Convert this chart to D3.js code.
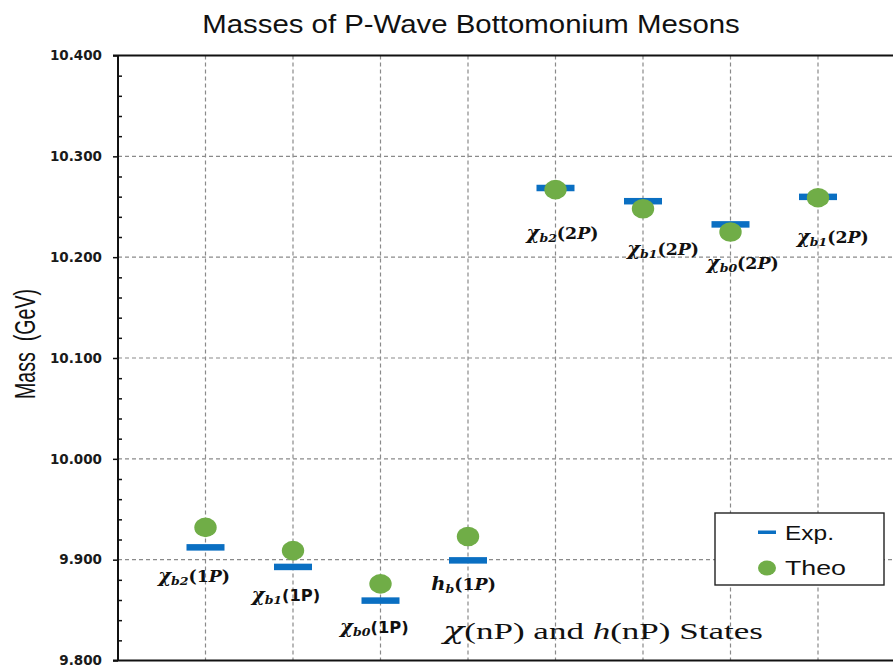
<!DOCTYPE html>
<html><head><meta charset="utf-8">
<script src="https://cdn.jsdelivr.net/npm/d3@7"></script>
<style>body{margin:0;background:#fff} svg{display:block}</style>
</head><body><svg id="c" width="893" height="668"></svg>
<script>
// ---- data ----
const stateBase  = ["χ","χ","χ","h","χ","χ","χ","χ"];
const stateSub   = ["b2","b1","b0","b","b2","b1","b0","b1"];
const stateLevel = ["1P","1P","1P","1P","2P","2P","2P","2P"];
const levelUpright = [false,true,true,false,false,false,false,false];
const expMass  = [9.9122, 9.8928, 9.8594, 9.8993, 10.2686, 10.2555, 10.2325, 10.2598];
const theoMass = [9.932, 9.909, 9.876, 9.923, 10.267, 10.248, 10.225, 10.259];
const labelMass  = [9.884, 9.865, 9.833, 9.876, 10.224, 10.208, 10.194, 10.220];
const labelShift = [-0.13, -0.08, -0.07, -0.05, 0.08, 0.23, 0.14, 0.17];
const yTicks = [9.8, 9.9, 10.0, 10.1, 10.2, 10.3, 10.4];
const legendLabels = ["Exp.", "Theo"];

// ---- layout ----
const W = 893, H = 668;
const svg = d3.select("#c");
const idx = d3.range(stateBase.length);
const x = d3.scaleLinear().domain([0, 9]).range([118, 905.5]);
const y = d3.scaleLinear().domain([9.8, 10.4]).range([660.5, 55.5]);
const BLUE = "#0a6fc2", GREEN = "#70ad47";

function stretch(g, text, target) {
  const w = text.node().getComputedTextLength();
  const k = target / w;
  g.attr("transform", g.attr("transform") + ` scale(${k},1)`);
  return k;
}

// grid
svg.append("g").selectAll("line").data(yTicks.filter(t => t > 9.8 && t < 10.4)).join("line")
  .attr("x1", x(0)).attr("x2", W).attr("y1", d => y(d)).attr("y2", d => y(d))
  .attr("stroke", "#8a8a8a").attr("stroke-width", 1.2).attr("stroke-dasharray", "4,3");
svg.append("g").selectAll("line").data(idx).join("line")
  .attr("x1", i => x(i + 1)).attr("x2", i => x(i + 1)).attr("y1", y(10.4)).attr("y2", y(9.8))
  .attr("stroke", "#8a8a8a").attr("stroke-width", 1.2).attr("stroke-dasharray", "4,3");

// frame lines
svg.append("line").attr("x1", 113).attr("x2", W).attr("y1", y(10.4)).attr("y2", y(10.4))
  .attr("stroke", "#111").attr("stroke-width", 2);
svg.append("line").attr("x1", 113).attr("x2", W).attr("y1", y(9.8)).attr("y2", y(9.8))
  .attr("stroke", "#111").attr("stroke-width", 2);

// y axis
const yAxis = d3.axisLeft(y).tickValues(yTicks).tickFormat(d3.format(".3f"))
  .tickSize(5).tickSizeOuter(0).tickPadding(11);
const gy = svg.append("g").attr("transform", `translate(${x(0)},0)`).call(yAxis);
gy.select(".domain").remove();
gy.selectAll(".tick line").attr("stroke", "#111").attr("stroke-width", 1.5);
gy.selectAll(".tick text").attr("font-family", "DejaVu Sans").attr("font-weight", "bold")
  .attr("font-size", 13.5).attr("fill", "#1a1a1a");
const minor = d3.range(9.82, 10.4, 0.02).filter(v => Math.abs(v * 10 - Math.round(v * 10)) > 1e-6);
const gm = svg.append("g").attr("transform", `translate(${x(0)},0)`)
  .call(d3.axisRight(y).tickValues(minor).tickSize(4).tickSizeOuter(0).tickFormat(""));
gm.select(".domain").remove();
gm.selectAll(".tick line").attr("stroke", "#111").attr("stroke-width", 1.5);
svg.append("line").attr("x1", x(0)).attr("x2", x(0)).attr("y1", y(10.4)).attr("y2", y(9.8))
  .attr("stroke", "#111").attr("stroke-width", 2);

// exp bars
svg.append("g").selectAll("rect").data(idx).join("rect")
  .attr("x", i => x(i + 1) - 19).attr("y", i => y(expMass[i]) - 3.25)
  .attr("width", 38).attr("height", 6.5).attr("fill", BLUE);
// theo points
svg.append("g").selectAll("ellipse").data(idx).join("ellipse")
  .attr("cx", i => x(i + 1)).attr("cy", i => y(theoMass[i]))
  .attr("rx", 11.2).attr("ry", 9.8).attr("fill", GREEN);

// state labels
let labelK = null;
idx.forEach(i => {
  const g = svg.append("g").attr("transform", `translate(${x(i + 1 + labelShift[i])},${y(labelMass[i]) + 6})`);
  const t = g.append("text").attr("text-anchor", "middle")
    .attr("font-family", "DejaVu Serif").attr("font-weight", "bold").attr("font-size", 16).attr("fill", "#111");
  t.append("tspan").attr("font-style", "italic").attr("font-size", 18).text(stateBase[i]);
  t.append("tspan").attr("font-style", "italic").attr("font-size", 11.5).attr("dy", 3).text(stateSub[i]);
  if (levelUpright[i]) {
    t.append("tspan").attr("dy", -3).attr("font-family", "DejaVu Sans").attr("font-size", 15)
      .text("(" + stateLevel[i] + ")");
  } else {
    t.append("tspan").attr("dy", -3).text("(" + stateLevel[i][0]);
    t.append("tspan").attr("font-style", "italic").text(stateLevel[i].slice(1));
    t.append("tspan").text(")");
  }
  const w = t.node().getComputedTextLength();
  if (labelK === null) labelK = 72 / w;
  g.attr("transform", g.attr("transform") + ` scale(${labelK},1)`);
});

// title
{
  const g = svg.append("g").attr("transform", "translate(471,33)");
  const t = g.append("text").attr("text-anchor", "middle").attr("font-family", "Liberation Sans")
    .attr("font-size", 25).attr("fill", "#111").text("Masses of P-Wave Bottomonium Mesons");
  stretch(g, t, 538);
}
// y title
{
  const g = svg.append("g").attr("transform", "translate(35,344) rotate(-90)");
  const t = g.append("text").attr("text-anchor", "middle").attr("font-family", "Liberation Sans")
    .attr("font-size", 29).attr("fill", "#111").style("white-space", "pre").text("Mass  (GeV)");
  stretch(g, t, 110);
}
// x title
{
  const g = svg.append("g").attr("transform", "translate(603,639)");
  const t = g.append("text").attr("text-anchor", "middle").attr("font-family", "Liberation Serif")
    .attr("font-size", 24).attr("fill", "#111");
  t.append("tspan").attr("font-style", "italic").attr("font-family", "DejaVu Serif").text("χ");
  t.append("tspan").text("(nP) and ");
  t.append("tspan").attr("font-style", "italic").text("h");
  t.append("tspan").text("(nP) States");
  stretch(g, t, 320);
}

// legend
{
  const lg = svg.append("g");
  lg.append("rect").attr("x", 715).attr("y", 513).attr("width", 169).attr("height", 72)
    .attr("fill", "#fff").attr("stroke", "#222").attr("stroke-width", 1.4);
  lg.append("rect").attr("x", 758).attr("y", 530.5).attr("width", 18).attr("height", 3.5).attr("fill", BLUE);
  lg.append("ellipse").attr("cx", 767).attr("cy", 568).attr("rx", 9).attr("ry", 7.5).attr("fill", GREEN);
  const targets = [49, 61];
  const base = [540, 575];
  legendLabels.forEach((s, i) => {
    const g = lg.append("g").attr("transform", `translate(785,${base[i]})`);
    const t = g.append("text").attr("font-family", "Liberation Sans").attr("font-size", 21)
      .attr("fill", "#111").text(s);
    stretch(g, t, targets[i]);
  });
}
</script></body></html>
